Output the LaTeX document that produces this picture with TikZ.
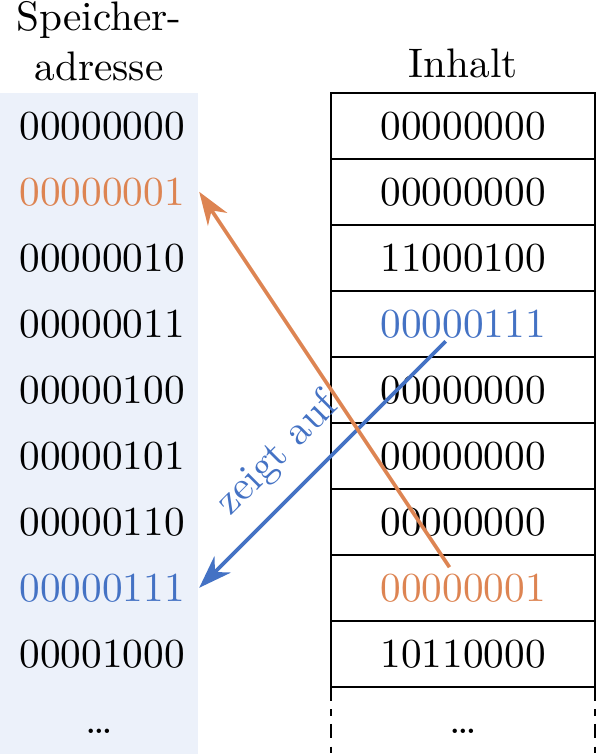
\documentclass[tikz,border=0pt]{standalone}
\usepackage{xcolor}
\usepackage{tikz}
\usetikzlibrary{arrows.meta, positioning}

\definecolor{ptrorange}{RGB}{221,132,82}
\definecolor{ptrblue}{RGB}{68,114,196}
\definecolor{addrbg}{RGB}{236,241,250}

\begin{document}
\begin{tikzpicture}[
            cell/.style={rectangle, draw, minimum width=64pt, minimum height=16pt, inner sep=0pt, outer sep=0pt},
            addr/.style={anchor=east},
            ptr/.style={line width=0.9pt, -{Stealth[length=8pt, width=5.6pt]}, shorten <=6pt}
        ]
        \useasboundingbox (0,0) rectangle (144.5pt,-182.8pt);

        % Address column
        \fill[addrbg] (0,-22.5pt) rectangle (48pt,-182.8pt);
        \node[align=center, anchor=south, inner sep=0pt] (hdraddr) at (24pt,-19.8pt) {Speicher-\\adresse};

        % Memory cells
        \node[cell] (c0) at (112.3pt,-30.5pt) {00000000};
        \node[cell, below=0pt of c0] (c1) {00000000};
        \node[cell, below=0pt of c1] (c2) {11000100};
        \node[cell, below=0pt of c2, text=ptrblue] (c3) {00000111};
        \node[cell, below=0pt of c3] (c4) {00000000};
        \node[cell, below=0pt of c4] (c5) {00000000};
        \node[cell, below=0pt of c5] (c6) {00000000};
        \node[cell, below=0pt of c6, text=ptrorange] (c7) {00000001};
        \node[cell, below=0pt of c7] (c8) {10110000};
        \node[cell, draw=none, below=0pt of c8] (c9) {\vphantom{0}\dots};
        \node[above=0pt of c0] (hdrcont) {Inhalt};

        \draw[dash pattern=on 3.5pt off 2pt on 1.5pt off 2pt] (c9.north west) -- (c9.south west);
        \draw[dash pattern=on 3.5pt off 2pt on 1.5pt off 2pt] (c9.north east) -- (c9.south east);

        % Addresses
        \node[addr] (a0) at (48.3pt,0 |- c0) {00000000};
        \node[addr, text=ptrorange] (a1) at (48.3pt,0 |- c1) {00000001};
        \node[addr] (a2) at (48.3pt,0 |- c2) {00000010};
        \node[addr] (a3) at (48.3pt,0 |- c3) {00000011};
        \node[addr] (a4) at (48.3pt,0 |- c4) {00000100};
        \node[addr] (a5) at (48.3pt,0 |- c5) {00000101};
        \node[addr] (a6) at (48.3pt,0 |- c6) {00000110};
        \node[addr, text=ptrblue] (a7) at (48.3pt,0 |- c7) {00000111};
        \node[addr] (a8) at (48.3pt,0 |- c8) {00001000};
        \node (a9) at (24pt,0 |- c9) {\vphantom{0}\dots};

        % Pointers
        \draw[ptr, ptrblue] (c3.center) -- node[pos=0.6, above=1pt, sloped] (zeigt) {zeigt auf} (a7.east);
        \draw[ptr, ptrorange] (c7.center) -- (a1.east);

    \end{tikzpicture}
\end{document}
